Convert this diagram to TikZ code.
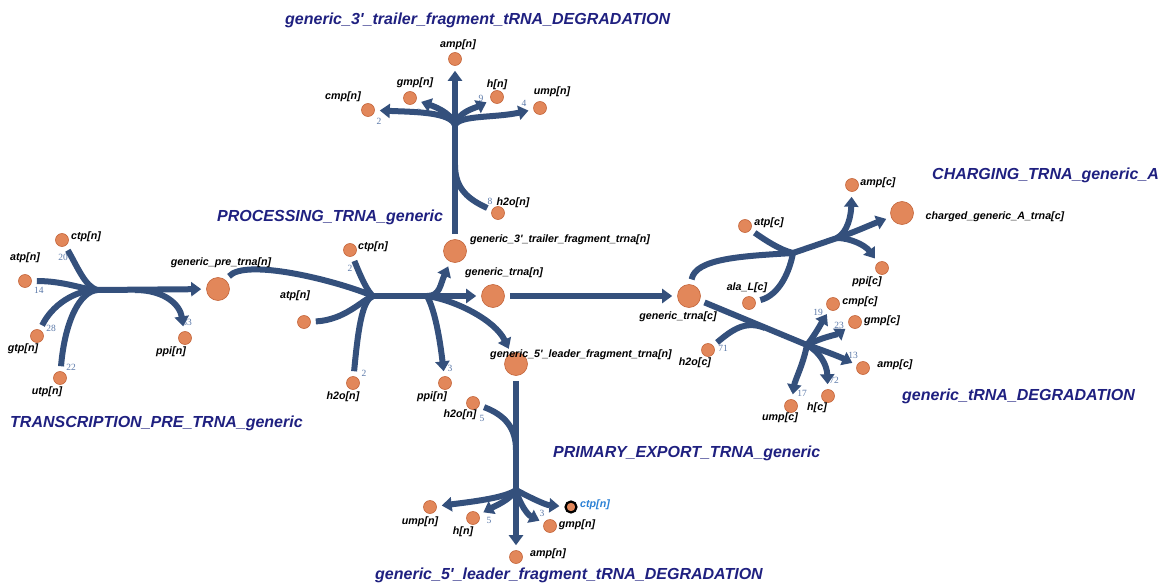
\documentclass[tikz,border=0pt]{standalone}
\usepackage{fontspec}
\setmainfont{Liberation Sans}
\newfontfamily\numfont{Liberation Serif}
\usetikzlibrary{arrows.meta}

\definecolor{metfill}{HTML}{E2875A}
\definecolor{metedge}{HTML}{C4653A}
\definecolor{rxncol}{HTML}{34507C}
\definecolor{numcol}{HTML}{5A78A8}
\definecolor{rxnname}{HTML}{1F2080}
\definecolor{selcol}{HTML}{2A80D5}

\tikzset{
  met/.style={circle,draw=metedge,fill=metfill,line width=0.6pt,minimum size=13pt,inner sep=0pt},
  bigmet/.style={met,minimum size=23pt},
  selmet/.style={met,draw=black,line width=2.2pt,minimum size=11pt},
  rxn/.style={draw=rxncol,line width=6pt,line join=round},
  reac/.style={rxn,shorten <=5pt},
  prod/.style={rxn,-{Triangle[length=10pt,width=14pt]},shorten >=5pt},
  lab/.style={inner sep=0pt,font=\fontsize{10.7}{12}\selectfont\bfseries\itshape},
  num/.style={inner sep=0pt,text=numcol,font=\numfont\fontsize{9.5}{11}\selectfont},
  rname/.style={inner sep=0pt,anchor=west,text=rxnname,font=\fontsize{16}{18}\selectfont\bfseries\itshape}
}

\begin{document}
\begin{tikzpicture}[x=1pt,y=-1pt]
\useasboundingbox (0,0) rectangle (1165,586);

% metabolites
\node[met] (tctp) at (62,240) {};
\node[met] (tatp) at (25,281) {};
\node[met] (tgtp) at (37,336) {};
\node[met] (tutp) at (60,378) {};
\node[met] (tppi) at (185,338) {};
\node[bigmet] (pretrna) at (218,289) {};
\node[met] (pctp) at (350,250) {};
\node[met] (patp) at (304,322) {};
\node[met] (ph2o) at (353,383) {};
\node[met] (pppi) at (445,383) {};
\node[bigmet] (trailer) at (455,251) {};
\node[bigmet] (trnan) at (493,296) {};
\node[bigmet] (leader) at (516,364) {};
\node[met] (damp) at (455,59) {};
\node[met] (dcmp) at (368,110) {};
\node[met] (dgmp) at (410,98) {};
\node[met] (dh) at (497,97) {};
\node[met] (dump) at (540,108) {};
\node[met] (dh2o) at (498,213) {};
\node[bigmet] (trnac) at (689,296) {};
\node[met] (catp) at (745,226) {};
\node[met] (cala) at (749,303) {};
\node[met] (camp) at (852,185) {};
\node[bigmet] (charged) at (902,213) {};
\node[met] (cppi) at (882,268) {};
\node[met] (gh2o) at (708,350) {};
\node[met] (gcmp) at (833,304) {};
\node[met] (ggmp) at (855,322) {};
\node[met] (gamp) at (863,368) {};
\node[met] (gh) at (828,396) {};
\node[met] (gump) at (791,406) {};
\node[met] (fh2o) at (473,403) {};
\node[met] (fump) at (430,507) {};
\node[met] (fh) at (473,518) {};
\node[met] (famp) at (516,557) {};
\node[met] (fgmp) at (550,526) {};
\node[selmet] (fctp) at (571,507) {};

% stoichiometry
\node[num] (n1) at (63,257) {20};
\node[num] (n2) at (39,290) {14};
\node[num] (n3) at (51,328) {28};
\node[num] (n4) at (71,367) {22};
\node[num] (n5) at (187,322) {83};
\node[num] (n6) at (350,268) {2};
\node[num] (n7) at (364,373) {2};
\node[num] (n8) at (450,368) {3};
\node[num] (n9) at (379,121) {2};
\node[num] (n10) at (419,112) {2};
\node[num] (n11) at (481,98) {9};
\node[num] (n12) at (524,103) {4};
\node[num] (n13) at (490,201) {8};
\node[num] (n14) at (723,348) {71};
\node[num] (n15) at (818,312) {19};
\node[num] (n16) at (839,325) {23};
\node[num] (n17) at (853,355) {13};
\node[num] (n18) at (834,380) {72};
\node[num] (n19) at (802,393) {17};
\node[num] (n20) at (482,418) {5};
\node[num] (n21) at (489,520) {5};
\node[num] (n22) at (542,513) {3};

% TRANSCRIPTION_PRE_TRNA_generic
\coordinate (tA) at (97,290);
\coordinate (tB) at (135,290);
\draw[reac] (tatp) .. controls (65,281) and (85,290) .. (tA);
\draw[reac] (tctp) .. controls (78,268) and (85,286) .. (tA);
\draw[reac] (tgtp) .. controls (52,305) and (75,290) .. (tA);
\draw[reac] (tutp) .. controls (65,320) and (80,292) .. (tA);
\draw[prod] (tA) -- (pretrna);
\draw[prod] (tB) .. controls (165,290) and (180,305) .. (tppi);

% PROCESSING_TRNA_generic
\coordinate (pA) at (373,296);
\coordinate (pB) at (427,296);
\draw[reac] (pretrna) .. controls (245,258) and (335,280) .. (pA);
\draw[reac] (pctp) .. controls (362,280) and (368,292) .. (pA);
\draw[reac] (patp) .. controls (345,320) and (362,300) .. (pA);
\draw[reac] (ph2o) .. controls (358,330) and (362,300) .. (pA);
\draw[rxn] (pA) -- (pB);
\draw[prod] (pB) .. controls (440,296) and (440,285) .. (trailer);
\draw[prod] (pB) -- (trnan);
\draw[prod] (pB) .. controls (455,300) and (495,320) .. (leader);
\draw[prod] (pB) .. controls (435,310) and (440,340) .. (pppi);

% generic_3'_trailer_fragment_tRNA_DEGRADATION
\coordinate (dA) at (455,165);
\coordinate (dB) at (455,125);
\draw[reac] (trailer) -- (dB);
\draw[reac] (dh2o) .. controls (470,200) and (455,190) .. (dA);
\draw[prod] (dB) -- (damp);
\draw[prod] (dB) .. controls (450,112) and (415,112) .. (dcmp);
\draw[prod] (dB) .. controls (452,112) and (430,105) .. (dgmp);
\draw[prod] (dB) .. controls (458,112) and (475,108) .. (dh);
\draw[prod] (dB) .. controls (460,115) and (495,118) .. (dump);

% PRIMARY_EXPORT_TRNA_generic
\draw[prod,shorten <=5pt] (trnan) -- (trnac);

% CHARGING_TRNA_generic_A
\coordinate (cA) at (793,253);
\coordinate (cB) at (837,238);
\draw[reac] (trnac) .. controls (695,258) and (745,256) .. (cA);
\draw[reac] (catp) .. controls (765,240) and (780,250) .. (cA);
\draw[reac] (cala) .. controls (780,295) and (790,270) .. (cA);
\draw[rxn] (cA) -- (cB);
\draw[prod] (cB) .. controls (848,232) and (851,215) .. (camp);
\draw[prod] (cB) .. controls (855,232) and (870,225) .. (charged);
\draw[prod] (cB) .. controls (850,238) and (865,245) .. (cppi);

% generic_tRNA_DEGRADATION
\coordinate (gA) at (765,328);
\coordinate (gB) at (807,345);
\draw[reac] (trnac) -- (gB);
\draw[reac] (gh2o) .. controls (732,330) and (745,320) .. (gA);
\draw[prod] (gB) .. controls (815,335) and (822,322) .. (gcmp);
\draw[prod] (gB) .. controls (820,338) and (838,334) .. (ggmp);
\draw[prod] (gB) .. controls (822,350) and (838,356) .. (gamp);
\draw[prod] (gB) .. controls (820,352) and (827,365) .. (gh);
\draw[prod] (gB) .. controls (803,365) and (795,380) .. (gump);

% generic_5'_leader_fragment_tRNA_DEGRADATION
\coordinate (fA) at (516,450);
\coordinate (fB) at (516,490);
\draw[reac] (leader) -- (fB);
\draw[reac] (fh2o) .. controls (505,415) and (516,428) .. (fA);
\draw[prod] (fB) .. controls (505,498) and (470,502) .. (fump);
\draw[prod] (fB) .. controls (510,500) and (495,506) .. (fh);
\draw[prod] (fB) -- (famp);
\draw[prod] (fB) .. controls (520,505) and (528,515) .. (fgmp);
\draw[prod] (fB) .. controls (525,495) and (545,505) .. (fctp);

% metabolite names
\node[lab] (tctpL) at (86,237) {ctp[n]};
\node[lab] (tatpL) at (25,258) {atp[n]};
\node[lab] (tgtpL) at (23,349) {gtp[n]};
\node[lab] (tutpL) at (47,392) {utp[n]};
\node[lab] (tppiL) at (171,352) {ppi[n]};
\node[lab] (pretrnaL) at (221,263) {generic\_pre\_trna[n]};
\node[lab] (pctpL) at (373,247) {ctp[n]};
\node[lab] (patpL) at (295,296) {atp[n]};
\node[lab] (ph2oL) at (343,397) {h2o[n]};
\node[lab] (pppiL) at (432,397) {ppi[n]};
\node[lab] (trailerL) at (560,240) {generic\_3\textquotesingle\_trailer\_fragment\_trna[n]};
\node[lab] (trnanL) at (504,273) {generic\_trna[n]};
\node[lab] (leaderL) at (581,355) {generic\_5\textquotesingle\_leader\_fragment\_trna[n]};
\node[lab] (dampL) at (458,45) {amp[n]};
\node[lab] (dgmpL) at (415,83) {gmp[n]};
\node[lab] (dhL) at (497,85) {h[n]};
\node[lab] (dumpL) at (552,92) {ump[n]};
\node[lab] (dcmpL) at (343,97) {cmp[n]};
\node[lab] (dh2oL) at (513,203) {h2o[n]};
\node[lab] (trnacL) at (678,317) {generic\_trna[c]};
\node[lab] (campL) at (878,183) {amp[c]};
\node[lab] (catpL) at (769,223) {atp[c]};
\node[lab] (calaL) at (747,288) {ala\_L[c]};
\node[lab] (cppiL) at (867,282) {ppi[c]};
\node[lab] (chargedL) at (995,217) {charged\_generic\_A\_trna[c]};
\node[lab] (gcmpL) at (860,302) {cmp[c]};
\node[lab] (ggmpL) at (882,321) {gmp[c]};
\node[lab] (gampL) at (895,365) {amp[c]};
\node[lab] (ghL) at (817,408) {h[c]};
\node[lab] (gumpL) at (780,418) {ump[c]};
\node[lab] (gh2oL) at (695,363) {h2o[c]};
\node[lab] (fh2oL) at (460,415) {h2o[n]};
\node[lab] (fumpL) at (420,522) {ump[n]};
\node[lab] (fhL) at (463,532) {h[n]};
\node[lab] (fampL) at (548,554) {amp[n]};
\node[lab] (fgmpL) at (577,525) {gmp[n]};
\node[lab,text=selcol] (fctpL) at (595,505) {ctp[n]};

% reaction names
\node[rname] (R1) at (10,423) {TRANSCRIPTION\_PRE\_TRNA\_generic};
\node[rname] (R2) at (217,217) {PROCESSING\_TRNA\_generic};
\node[rname] (R3) at (285,20) {generic\_3\textquotesingle\_trailer\_fragment\_tRNA\_DEGRADATION};
\node[rname] (R4) at (553,453) {PRIMARY\_EXPORT\_TRNA\_generic};
\node[rname] (R5) at (375,575) {generic\_5\textquotesingle\_leader\_fragment\_tRNA\_DEGRADATION};
\node[rname] (R6) at (932,175) {CHARGING\_TRNA\_generic\_A};
\node[rname] (R7) at (902,396) {generic\_tRNA\_DEGRADATION};
\end{tikzpicture}
\end{document}
